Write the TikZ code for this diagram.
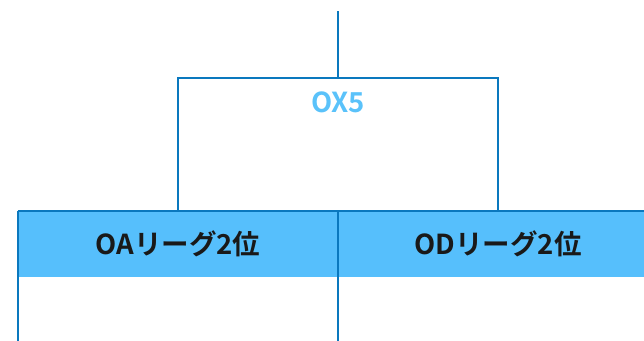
\documentclass[tikz,border=0pt]{standalone}
\usepackage{fontspec}
\newfontfamily\jpbold{Noto Sans CJK JP Bold}
\usetikzlibrary{calc}

\definecolor{lineblue}{HTML}{0A78BE}
\definecolor{bandblue}{HTML}{56BFFC}
\definecolor{ox}{HTML}{5AC2FA}

\tikzset{
  line/.style = {draw=lineblue, line width=2pt},
  team/.style = {fill=bandblue, minimum width=320pt, minimum height=66pt, inner sep=0pt,
                 font=\jpbold\fontsize{27.5}{32}\selectfont, text=black!90},
  matchname/.style = {font=\jpbold\fontsize{27.5}{32}\selectfont, text=ox}
}

\begin{document}
\begin{tikzpicture}[x=1pt, y=-1pt]
  \useasboundingbox (0,0) rectangle (644,340);

  \node[team] (oa) at (178,244) {OAリーグ2位};
  \node[team] (od) at (498,244) {ODリーグ2位};
  \node[matchname] (ox5) at (338,102) {OX5};

  \coordinate (top) at (338,11);
  \coordinate (split) at (338,78);

  \draw[line] (top) -- (split);
  \draw[line] (oa.north) |- (split) -| (od.north);

  \draw[line] (oa.north west) -- (od.north east);
  \draw[line] (oa.north west) -- ++(0,130);
  \draw[line] (oa.north east) -- ++(0,130);
\end{tikzpicture}
\end{document}
